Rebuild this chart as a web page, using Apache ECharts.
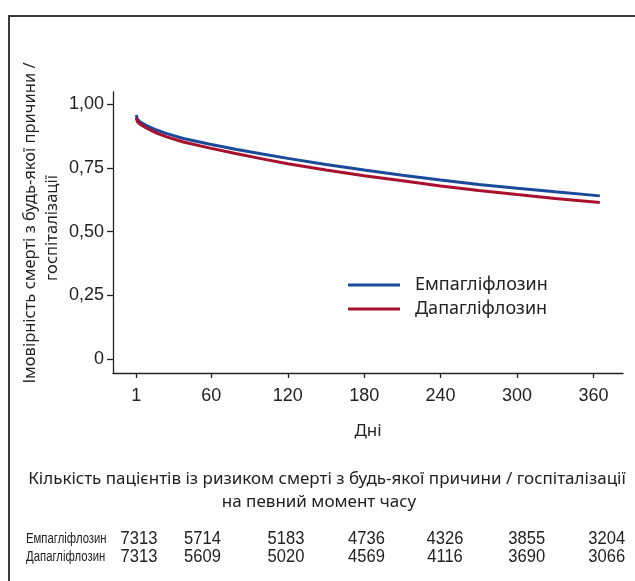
<!DOCTYPE html>
<html><head><meta charset="utf-8">
<script src="https://cdn.jsdelivr.net/npm/echarts@6/dist/echarts.min.js"></script>
<style>html,body{margin:0;padding:0;background:#fff}#c{width:635px;height:581px}</style>
</head><body><div id="c"></div>
<script>
// ---- data ----
const seriesNames = ['Емпагліфлозин', 'Дапагліфлозин'];
const days = [1, 2, 4, 6, 10, 17, 25, 38, 59, 80, 100, 120, 150, 180, 210, 240, 270, 300, 330, 365];
const empaValues = [0.957, 0.940, 0.930, 0.924, 0.913, 0.898, 0.884, 0.865, 0.842, 0.822, 0.804, 0.787, 0.763, 0.741, 0.721, 0.702, 0.685, 0.670, 0.656, 0.640];
const dapaValues = [0.946, 0.930, 0.921, 0.915, 0.903, 0.886, 0.871, 0.851, 0.827, 0.805, 0.785, 0.766, 0.741, 0.719, 0.699, 0.679, 0.661, 0.645, 0.630, 0.614];
const xTicks = [1, 60, 120, 180, 240, 300, 360];
const yTicks = [0, 0.25, 0.5, 0.75, 1];
const empaAtRisk = [7313, 5714, 5183, 4736, 4326, 3855, 3204];
const dapaAtRisk = [7313, 5609, 5020, 4569, 4116, 3690, 3066];
const yTitle1 = 'Імовірність смерті з будь-якої причини /';
const yTitle2 = 'госпіталізації';
const xTitle = 'Дні';
const tableTitle1 = 'Кількість пацієнтів із ризиком смерті з будь-якої причини / госпіталізації';
const tableTitle2 = 'на певний момент часу';

// ---- layout ----
const colX = [139, 202.5, 286, 366.5, 445, 526.7, 606.7];
const rowY = [539, 557];
const BLUE = '#1b4a9a', RED = '#a8102e';
const NUMF = '"Liberation Sans", sans-serif';
const SANS = '"Noto Sans", sans-serif';

const chart = echarts.init(document.getElementById('c'), null, {renderer: 'canvas'});
const graphics = [
  {type: 'rect', shape: {x: 9, y: 16, width: 800, height: 800}, style: {fill: 'none', stroke: '#3a3a3a', lineWidth: 2}, silent: true},
  {type: 'text', x: 30, y: 223, rotation: Math.PI / 2, style: {text: yTitle1, font: '16.5px ' + SANS, fill: '#222', textAlign: 'center', textVerticalAlign: 'middle'}},
  {type: 'text', x: 52, y: 228, rotation: Math.PI / 2, style: {text: yTitle2, font: '16.5px ' + SANS, fill: '#222', textAlign: 'center', textVerticalAlign: 'middle'}},
  {type: 'text', x: 327, y: 479, style: {text: tableTitle1, font: '17px ' + SANS, fill: '#222', textAlign: 'center', textVerticalAlign: 'middle'}},
  {type: 'text', x: 319, y: 502, style: {text: tableTitle2, font: '17px ' + SANS, fill: '#222', textAlign: 'center', textVerticalAlign: 'middle'}}
];
[empaAtRisk, dapaAtRisk].forEach((row, r) => {
  graphics.push({type: 'text', x: 26, y: rowY[r], scaleX: 0.81, style: {text: seriesNames[r], font: '14px ' + NUMF, fill: '#222', textAlign: 'left', textVerticalAlign: 'middle'}});
  row.forEach((v, i) => {
    graphics.push({type: 'text', x: colX[i], y: rowY[r], scaleX: 0.92, style: {text: String(v), font: '18px ' + NUMF, fill: '#222', textAlign: 'center', textVerticalAlign: 'middle'}});
  });
});

chart.setOption({
  animation: false,
  backgroundColor: '#fff',
  grid: {left: 113, right: 12, top: 92, bottom: 208, containLabel: false},
  legend: {
    orient: 'vertical', left: 348, top: 275, padding: 0, icon: 'rect', itemWidth: 52, itemHeight: 3, itemGap: 4,
    data: seriesNames,
    textStyle: {fontFamily: SANS, fontSize: 18, color: '#222', lineHeight: 20, padding: [0, 0, 0, 10]}
  },
  xAxis: {
    type: 'value', min: -17.2, max: 383.2,
    name: xTitle, nameLocation: 'middle', nameGap: 50,
    nameTextStyle: {fontFamily: SANS, fontSize: 17, color: '#222'},
    axisLine: {show: true, onZero: false, lineStyle: {color: '#222', width: 1.3}},
    axisTick: {show: true, length: 5, customValues: xTicks, lineStyle: {color: '#222', width: 1.3}},
    axisLabel: {customValues: xTicks, margin: 14, fontFamily: NUMF, fontSize: 18, color: '#222'},
    splitLine: {show: false}
  },
  yAxis: {
    type: 'value', min: -0.054, max: 1.047,
    axisLine: {show: true, onZero: false, lineStyle: {color: '#222', width: 1.3}},
    axisTick: {show: true, length: 6, customValues: yTicks, lineStyle: {color: '#222', width: 1.3}},
    axisLabel: {customValues: yTicks, margin: 9, fontFamily: NUMF, fontSize: 18, color: '#222',
      formatter: v => v === 0 ? '0' : v.toFixed(2).replace('.', ',')},
    splitLine: {show: false}
  },
  series: [
    {name: seriesNames[0], type: 'line', data: days.map((d, i) => [d, empaValues[i]]), smooth: false, showSymbol: false, lineStyle: {color: BLUE, width: 3}, itemStyle: {color: BLUE}},
    {name: seriesNames[1], type: 'line', data: days.map((d, i) => [d, dapaValues[i]]), smooth: false, showSymbol: false, lineStyle: {color: RED, width: 3}, itemStyle: {color: RED}}
  ],
  graphic: graphics
});
</script></body></html>
